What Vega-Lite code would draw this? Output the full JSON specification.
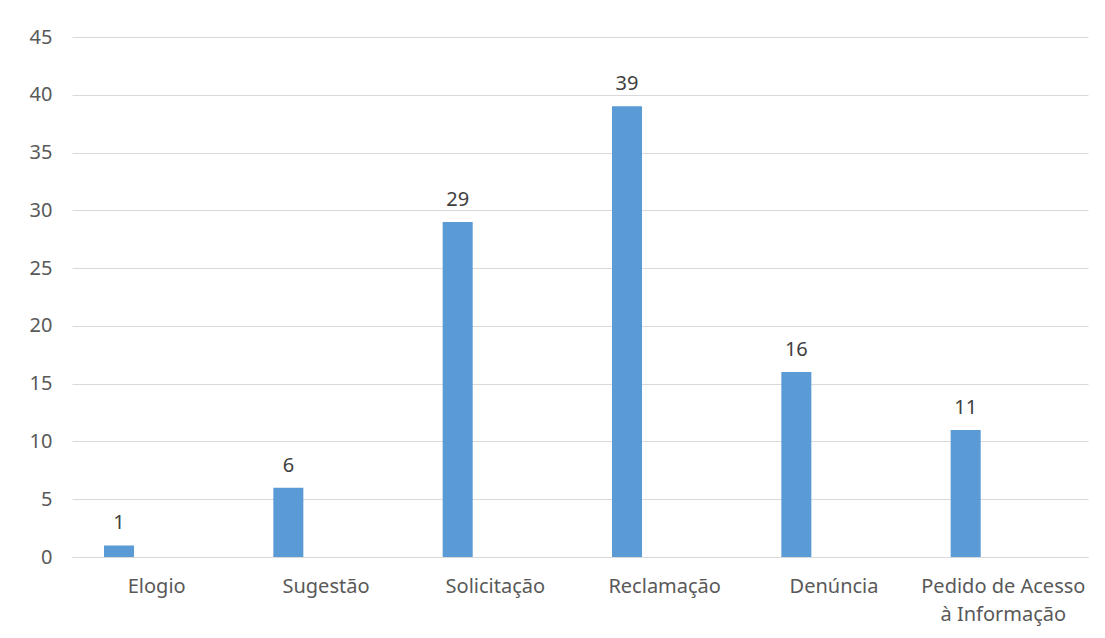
{
  "$schema": "https://vega.github.io/schema/vega-lite/v6.json",
  "width": 1016,
  "height": 520,
  "autosize": {"type": "none"},
  "padding": {"left": 72, "top": 37, "right": 17, "bottom": 81},
  "background": "white",
  "config": {"view": {"stroke": null}, "font": "Noto Sans"},
  "data": {
    "values": [
      {"categoria": "Elogio", "serie": "Total", "valor": 1},
      {"categoria": "Sugestão", "serie": "Total", "valor": 6},
      {"categoria": "Solicitação", "serie": "Total", "valor": 29},
      {"categoria": "Reclamação", "serie": "Total", "valor": 39},
      {"categoria": "Denúncia", "serie": "Total", "valor": 16},
      {"categoria": "Pedido de Acesso à Informação", "serie": "Total", "valor": 11}
    ]
  },
  "encoding": {
    "x": {
      "field": "categoria",
      "type": "nominal",
      "sort": null,
      "title": null,
      "scale": {"paddingInner": 0, "paddingOuter": 0},
      "axis": {
        "labelAngle": 0,
        "ticks": false,
        "domain": true,
        "domainColor": "#d9d9d9",
        "domainWidth": 1,
        "labelColor": "#595959",
        "labelFontSize": 20,
        "labelPadding": 19,
        "labelLineHeight": 28,
        "labelLimit": 0,
        "labelExpr": "datum.label == 'Pedido de Acesso à Informação' ? ['Pedido de Acesso', 'à Informação'] : datum.label"
      }
    },
    "xOffset": {
      "field": "serie",
      "type": "nominal",
      "scale": {"domain": ["Total", "s2", "s3", "s4"], "paddingInner": 0, "paddingOuter": 0.82, "align": 0.65}
    },
    "y": {
      "field": "valor",
      "type": "quantitative",
      "title": null,
      "scale": {"domain": [0, 45]},
      "axis": {
        "values": [0, 5, 10, 15, 20, 25, 30, 35, 40, 45],
        "ticks": false,
        "domain": false,
        "gridColor": "#d9d9d9",
        "gridWidth": 1,
        "labelColor": "#595959",
        "labelFontSize": 20,
        "labelPadding": 20
      }
    }
  },
  "layer": [
    {"mark": {"type": "bar", "color": "#5b9bd5"}},
    {
      "mark": {"type": "text", "baseline": "alphabetic", "dy": -16, "fontSize": 20, "color": "#404040"},
      "encoding": {"text": {"field": "valor", "type": "quantitative"}}
    }
  ]
}
